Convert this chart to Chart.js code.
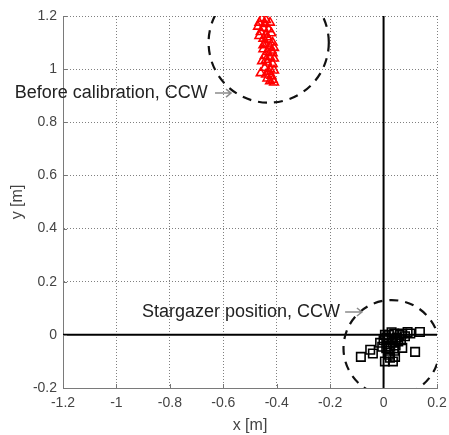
<!DOCTYPE html>
<html><head><meta charset="utf-8">
<script src="https://cdn.jsdelivr.net/npm/chart.js@4.4.0/dist/chart.umd.min.js"></script>
<style>html,body{margin:0;padding:0;background:#fff}#wrap{width:449px;height:435px}</style>
</head><body><div id="wrap"><canvas id="c" width="449" height="435"></canvas></div>
<script>
const xTicks=[-1.2,-1,-0.8,-0.6,-0.4,-0.2,0,0.2];
const xTickLabels=['-1.2','-1','-0.8','-0.6','-0.4','-0.2','0','0.2'];
const yTicks=[-0.2,0,0.2,0.4,0.6,0.8,1,1.2];
const yTickLabels=['-0.2','0','0.2','0.4','0.6','0.8','1','1.2'];

const beforeX=[-0.455,-0.44,-0.465,-0.445,-0.425,-0.47,-0.45,-0.43,-0.46,-0.44,-0.42,-0.45,-0.43,-0.415,-0.445,-0.425,-0.41,-0.45,-0.435,-0.415,-0.445,-0.425,-0.41,-0.455,-0.435,-0.415,-0.445,-0.425,-0.41,-0.46,-0.44,-0.42,-0.435,-0.415,-0.41,-0.425,-0.465,-0.45,-0.435,-0.42,-0.44,-0.43];
const beforeY=[1.19,1.185,1.175,1.17,1.175,1.16,1.155,1.15,1.14,1.13,1.135,1.115,1.11,1.1,1.095,1.085,1.08,1.075,1.065,1.06,1.05,1.045,1.04,1.03,1.025,1.02,1.005,1.0,0.995,0.985,0.98,0.975,0.965,0.96,0.95,0.955,1.125,1.09,1.12,1.07,1.035,0.99];

const starX=[-0.085,-0.05,-0.04,-0.013,0.024,0.043,0.07,0.118,0.136,0.09,0.005,0.035,0.01,0.02,0.03,0.04,0.05,0.06,0.015,0.025,0.035,0.045,0.0,0.01,0.02,0.055,0.07,0.08,0.03,0.005,-0.005,0.02,0.04,0.1,0.065,0.015,0.045];
const starY=[-0.083,-0.056,-0.07,-0.03,-0.086,-0.083,-0.049,-0.064,0.011,0.011,-0.1,-0.1,-0.01,0.0,-0.02,0.005,-0.01,0.0,-0.035,-0.045,-0.03,-0.04,-0.02,-0.05,-0.06,-0.025,0.005,-0.005,0.01,0.0,-0.045,-0.075,-0.06,0.005,-0.02,-0.015,-0.015];

const circleCX=[-0.43,0.03];
const circleCY=[1.1,-0.05];
const circleR=[0.225,0.18];

const annotationText=['Before calibration, CCW','Stargazer position, CCW'];
const annotationX=[-0.658,-0.163];
const annotationY=[0.891,0.068];
const arrowX0=[-0.631,-0.144];
const arrowX1=[-0.571,-0.081];
const arrowY=[0.91,0.086];

const FONT='"Liberation Sans", Arial, Helvetica, sans-serif';

const beforeData=beforeX.map((x,i)=>({x:x,y:beforeY[i]}));
const starData=starX.map((x,i)=>({x:x,y:starY[i]}));
const hLine=[{x:xTicks[0],y:0},{x:xTicks[xTicks.length-1],y:0}];
const vLine=[{x:0,y:yTicks[0]},{x:0,y:yTicks[yTicks.length-1]}];

const extras={
  id:'extras',
  afterDatasetsDraw(chart){
    const ctx=chart.ctx, a=chart.chartArea, xs=chart.scales.x, ys=chart.scales.y;
    ctx.save();
    ctx.beginPath();ctx.rect(a.left,a.top,a.right-a.left,a.bottom-a.top);ctx.clip();
    ctx.strokeStyle='#111';ctx.lineWidth=2.2;ctx.setLineDash([9,7]);
    for(let i=0;i<circleCX.length;i++){
      const cx=xs.getPixelForValue(circleCX[i]), cy=ys.getPixelForValue(circleCY[i]);
      const r=Math.abs(xs.getPixelForValue(circleCX[i]+circleR[i])-cx);
      ctx.beginPath();ctx.arc(cx,cy,r,0,Math.PI*2);ctx.stroke();
    }
    ctx.restore();
  },
  afterDraw(chart){
    const ctx=chart.ctx, a=chart.chartArea, xs=chart.scales.x, ys=chart.scales.y;
    ctx.save();
    ctx.strokeStyle='#777';ctx.lineWidth=1;
    xTicks.forEach(v=>{const p=Math.round(xs.getPixelForValue(v))+0.5;ctx.beginPath();ctx.moveTo(p,a.bottom);ctx.lineTo(p,a.bottom-4);ctx.stroke();});
    yTicks.forEach(v=>{const p=Math.round(ys.getPixelForValue(v))+0.5;ctx.beginPath();ctx.moveTo(a.left,p);ctx.lineTo(a.left+4,p);ctx.stroke();});
    ctx.font='18px '+FONT;ctx.fillStyle='#222';ctx.textAlign='right';ctx.textBaseline='alphabetic';
    for(let i=0;i<annotationText.length;i++){
      ctx.fillText(annotationText[i],xs.getPixelForValue(annotationX[i]),ys.getPixelForValue(annotationY[i]));
      const x0=xs.getPixelForValue(arrowX0[i]), x1=xs.getPixelForValue(arrowX1[i]), y=ys.getPixelForValue(arrowY[i]);
      ctx.strokeStyle='#8c8c8c';ctx.lineWidth=1.5;
      ctx.beginPath();ctx.moveTo(x0,y);ctx.lineTo(x1,y);ctx.moveTo(x1-5,y-4);ctx.lineTo(x1,y);ctx.lineTo(x1-5,y+4);ctx.stroke();
    }
    ctx.restore();
  }
};

const gridOpt={color:'#808080',lineWidth:1,drawTicks:false};
const borderOpt={display:true,color:'#7a7a7a',width:1,dash:[1,2]};

new Chart(document.getElementById('c'),{
  type:'scatter',
  data:{datasets:[
    {label:'x0',data:hLine,showLine:true,pointRadius:0,borderColor:'#000',borderWidth:2},
    {label:'y0',data:vLine,showLine:true,pointRadius:0,borderColor:'#000',borderWidth:2},
    {label:'Before calibration, CCW',data:beforeData,pointStyle:'triangle',pointRadius:5,borderColor:'#ff0000',backgroundColor:'rgba(0,0,0,0)',borderWidth:1.6},
    {label:'Stargazer position, CCW',data:starData,pointStyle:'rect',pointRadius:6,borderColor:'#000',backgroundColor:'rgba(0,0,0,0)',borderWidth:1.6}
  ]},
  options:{
    responsive:false,animation:false,devicePixelRatio:1,
    layout:{padding:{left:0,right:12,top:16,bottom:0}},
    plugins:{legend:{display:false},tooltip:{enabled:false}},
    scales:{
      x:{type:'linear',min:xTicks[0],max:xTicks[xTicks.length-1],
        afterBuildTicks:s=>{s.ticks=xTicks.map(v=>({value:v}));},
        afterFit:s=>{s.height=47;s.paddingRight=0;s.paddingLeft=0;},
        grid:gridOpt,border:borderOpt,
        ticks:{padding:7,color:'#444',font:{size:14,family:FONT},maxRotation:0,autoSkip:false,callback:(v,i)=>xTickLabels[i]},
        title:{display:true,text:'x [m]',color:'#444',font:{size:16,family:FONT},padding:{top:0,bottom:0}}},
      y:{type:'linear',min:yTicks[0],max:yTicks[yTicks.length-1],
        afterBuildTicks:s=>{s.ticks=yTicks.map(v=>({value:v}));},
        afterFit:s=>{s.width=63;s.paddingTop=0;s.paddingBottom=0;},
        grid:gridOpt,border:borderOpt,
        ticks:{padding:6,color:'#444',font:{size:14,family:FONT},autoSkip:false,callback:(v,i)=>yTickLabels[i]},
        title:{display:true,text:'y [m]',color:'#444',font:{size:16,family:FONT},padding:{top:8,bottom:0}}}
    }
  },
  plugins:[extras]
});
</script></body></html>
